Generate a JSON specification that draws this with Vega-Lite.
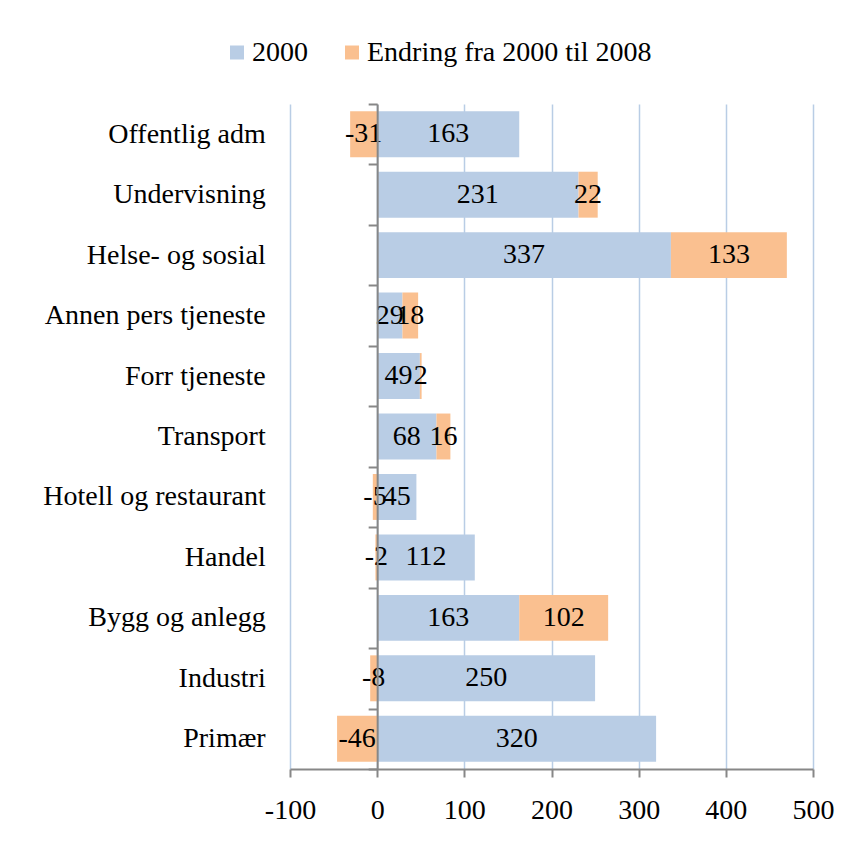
{
  "$schema": "https://vega.github.io/schema/vega-lite/v6.json",
  "width": 523,
  "height": 665,
  "autosize": {"type": "none"},
  "padding": {"left": 290, "top": 104, "right": 36, "bottom": 78},
  "background": "white",
  "config": {"view": {"stroke": null}},
  "data": {
    "values": [
      {"sektor": "Offentlig adm", "serie": "2000", "verdi": 163},
      {"sektor": "Offentlig adm", "serie": "Endring fra 2000 til 2008", "verdi": -31},
      {"sektor": "Undervisning", "serie": "2000", "verdi": 231},
      {"sektor": "Undervisning", "serie": "Endring fra 2000 til 2008", "verdi": 22},
      {"sektor": "Helse- og sosial", "serie": "2000", "verdi": 337},
      {"sektor": "Helse- og sosial", "serie": "Endring fra 2000 til 2008", "verdi": 133},
      {"sektor": "Annen pers tjeneste", "serie": "2000", "verdi": 29},
      {"sektor": "Annen pers tjeneste", "serie": "Endring fra 2000 til 2008", "verdi": 18},
      {"sektor": "Forr tjeneste", "serie": "2000", "verdi": 49},
      {"sektor": "Forr tjeneste", "serie": "Endring fra 2000 til 2008", "verdi": 2},
      {"sektor": "Transport", "serie": "2000", "verdi": 68},
      {"sektor": "Transport", "serie": "Endring fra 2000 til 2008", "verdi": 16},
      {"sektor": "Hotell og restaurant", "serie": "2000", "verdi": 45},
      {"sektor": "Hotell og restaurant", "serie": "Endring fra 2000 til 2008", "verdi": -5},
      {"sektor": "Handel", "serie": "2000", "verdi": 112},
      {"sektor": "Handel", "serie": "Endring fra 2000 til 2008", "verdi": -2},
      {"sektor": "Bygg og anlegg", "serie": "2000", "verdi": 163},
      {"sektor": "Bygg og anlegg", "serie": "Endring fra 2000 til 2008", "verdi": 102},
      {"sektor": "Industri", "serie": "2000", "verdi": 250},
      {"sektor": "Industri", "serie": "Endring fra 2000 til 2008", "verdi": -8},
      {"sektor": "Primær", "serie": "2000", "verdi": 320},
      {"sektor": "Primær", "serie": "Endring fra 2000 til 2008", "verdi": -46}
    ]
  },
  "layer": [
    {
      "mark": {"type": "bar", "height": {"band": 0.76}},
      "encoding": {
        "y": {
          "field": "sektor",
          "type": "nominal",
          "sort": ["Offentlig adm", "Undervisning", "Helse- og sosial", "Annen pers tjeneste", "Forr tjeneste", "Transport", "Hotell og restaurant", "Handel", "Bygg og anlegg", "Industri", "Primær"],
          "scale": {"paddingInner": 0, "paddingOuter": 0},
          "axis": {
            "orient": "left",
            "offset": -87.17,
            "title": null,
            "domainColor": "#878787",
            "domainWidth": 2,
            "tickColor": "#878787",
            "tickWidth": 2,
            "tickSize": 9,
            "tickBand": "extent",
            "labelPadding": 103,
            "labelFont": "Liberation Serif",
            "labelFontSize": 28,
            "labelColor": "black",
            "labelLimit": 400,
            "grid": false,
            "zindex": 1
          }
        },
        "x": {
          "field": "verdi",
          "type": "quantitative",
          "stack": "zero",
          "scale": {"domain": [-100, 500], "nice": false, "zero": false},
          "axis": {
            "values": [-100, 0, 100, 200, 300, 400, 500],
            "grid": true,
            "gridColor": "#B9CDE5",
            "gridWidth": 1.5,
            "domainColor": "#878787",
            "domainWidth": 2,
            "tickColor": "#878787",
            "tickWidth": 2,
            "tickSize": 8,
            "labelFont": "Liberation Serif",
            "labelFontSize": 28,
            "labelColor": "black",
            "labelPadding": 19,
            "labelFlush": false,
            "labelExpr": "'' + datum.value",
            "title": null
          }
        },
        "color": {
          "field": "serie",
          "type": "nominal",
          "scale": {"domain": ["2000", "Endring fra 2000 til 2008"], "range": ["#B9CDE5", "#FAC090"]},
          "legend": {
            "orient": "none",
            "legendX": -67,
            "legendY": -65.5,
            "direction": "horizontal",
            "title": null,
            "symbolType": "square",
            "symbolSize": 196,
            "symbolStrokeWidth": 0,
            "labelFont": "Liberation Serif",
            "labelFontSize": 28,
            "labelColor": "black",
            "labelOffset": 1,
            "labelLimit": 400,
            "columnPadding": 30,
            "padding": 0
          }
        },
        "order": {"field": "serie", "sort": "ascending"}
      }
    },
    {
      "mark": {"type": "text", "font": "Liberation Serif", "fontSize": 28, "color": "black"},
      "encoding": {
        "y": {
          "field": "sektor",
          "type": "nominal",
          "sort": ["Offentlig adm", "Undervisning", "Helse- og sosial", "Annen pers tjeneste", "Forr tjeneste", "Transport", "Hotell og restaurant", "Handel", "Bygg og anlegg", "Industri", "Primær"]
        },
        "x": {"field": "verdi", "type": "quantitative", "stack": "zero", "bandPosition": 0.5},
        "detail": {"field": "serie"},
        "order": {"field": "serie", "sort": "ascending"},
        "text": {"field": "verdi", "type": "nominal"}
      }
    }
  ]
}
